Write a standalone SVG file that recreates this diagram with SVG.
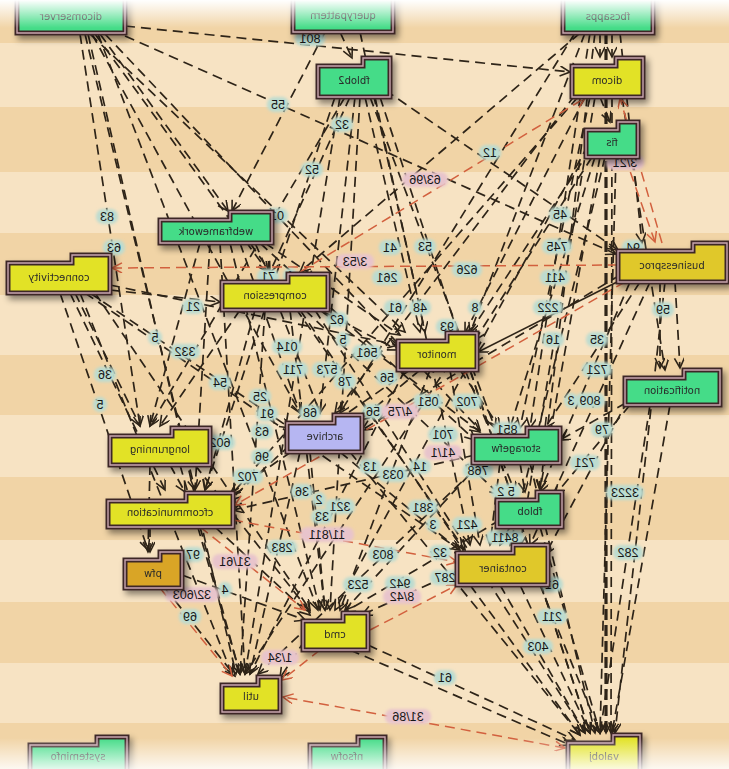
<svg xmlns="http://www.w3.org/2000/svg" width="729" height="769" viewBox="0 0 729 769">
<defs>
<linearGradient id="topfade" x1="0" y1="0" x2="0" y2="1"><stop offset="0" stop-color="#fff" stop-opacity="1"/><stop offset="1" stop-color="#fff" stop-opacity="0"/></linearGradient>
<linearGradient id="botfade" x1="0" y1="0" x2="0" y2="1"><stop offset="0" stop-color="#fff" stop-opacity="0"/><stop offset="1" stop-color="#fff" stop-opacity="1"/></linearGradient>
<filter id="sh" x="-20%" y="-30%" width="150%" height="170%"><feDropShadow dx="3" dy="4" stdDeviation="3" flood-color="#000" flood-opacity="0.45"/></filter>
<filter id="glow" x="-30%" y="-50%" width="160%" height="200%"><feGaussianBlur stdDeviation="1.6"/></filter>
<marker id="ad" markerUnits="userSpaceOnUse" markerWidth="14" markerHeight="12" refX="11" refY="5" orient="auto"><path d="M1,0 L11,5 L1,10" fill="none" stroke="#2e2418" stroke-width="1.6"/></marker>
<marker id="ar" markerUnits="userSpaceOnUse" markerWidth="14" markerHeight="12" refX="11" refY="5" orient="auto"><path d="M1,0 L11,5 L1,10" fill="none" stroke="#d2603e" stroke-width="1.5"/></marker>
<marker id="ars" markerUnits="userSpaceOnUse" markerWidth="14" markerHeight="12" refX="1" refY="5" orient="auto"><path d="M11,0 L1,5 L11,10" fill="none" stroke="#d2603e" stroke-width="1.5"/></marker>
<style>
.e{fill:none;stroke:#2e2418;stroke-width:1.7;stroke-dasharray:10 6;marker-end:url(#ad)}
.ek{stroke-width:3.2;stroke-dasharray:11 5}
.r{fill:none;stroke:#d2603e;stroke-width:1.5;stroke-dasharray:10 6;marker-end:url(#ar)}
.lb rect{fill:#bcdcd0;filter:url(#glow)}
.lb.p rect{fill:#e8c4cc}
.lb text{font-family:"Liberation Sans",Arial,sans-serif;font-size:12.5px;fill:#161616;text-anchor:middle}
.o{stroke:#3c2828;stroke-width:5;stroke-linejoin:miter}
.i{fill:none;stroke:#c9a5ae;stroke-width:1.4}
.g{fill:#44dc88}.y{fill:#e2e226}.gd{fill:#e0c82a}.or{fill:#d9a526}.lv{fill:#b6b6f2}
.nt{font-family:"DejaVu Sans",Verdana,sans-serif;font-size:10px;fill:#2a2a2a;text-anchor:middle}
</style>
</defs>
<g id="background">
<rect width="729" height="769" fill="#f7e3c3"/>
<rect y="0" width="729" height="43" fill="#f1d4a6"/>
<rect y="107" width="729" height="65" fill="#f1d4a6"/>
<rect y="233" width="729" height="62" fill="#f1d4a6"/>
<rect y="355" width="729" height="60" fill="#f1d4a6"/>
<rect y="477" width="729" height="63" fill="#f1d4a6"/>
<rect y="602" width="729" height="61" fill="#f1d4a6"/>
<rect y="723" width="729" height="46" fill="#f1d4a6"/>
</g>
<g id="connectors">
<path class="e" d="M125,26 L570,72"/>
<path class="e" d="M125,36 L616,254"/>
<path class="e" d="M100,34 L228,211"/>
<path class="e" d="M95,34 L268,272"/>
<path class="e" d="M90,34 L405,332"/>
<path class="e" d="M80,34 L140,426"/>
<path class="e" d="M85,34 L195,490"/>
<path class="e" d="M88,34 L236,674"/>
<path class="e" d="M92,34 L300,413"/>
<path class="e" d="M98,34 L318,610"/>
<path class="e" d="M105,34 L480,430"/>
<path class="e" d="M325,32 L232,211"/>
<path class="e" d="M340,32 L352,58"/>
<path class="e" d="M360,32 L425,332"/>
<path class="e" d="M350,97 L270,272"/>
<path class="e" d="M345,97 L150,426"/>
<path class="e" d="M355,97 L320,413"/>
<path class="e" d="M360,97 L330,610"/>
<path class="e" d="M365,97 L420,332"/>
<path class="e" d="M370,97 L495,428"/>
<path class="e" d="M375,97 L470,545"/>
<path class="e" d="M385,90 L618,250"/>
<path class="e" d="M340,97 L245,674"/>
<path class="e" d="M380,97 L590,733"/>
<path class="e" d="M335,97 L205,490"/>
<path class="e" d="M600,33 L600,57"/>
<path class="e" d="M612,33 L612,57"/>
<path class="e ek" d="M606,33 L606,733"/>
<path class="e" d="M590,33 L530,428"/>
<path class="e" d="M585,33 L470,333"/>
<path class="e" d="M580,33 L300,272"/>
<path class="e" d="M595,33 L540,490"/>
<path class="e" d="M575,33 L340,413"/>
<path class="e" d="M620,33 L642,243"/>
<path class="e" d="M600,97 L610,122"/>
<path class="e" d="M590,97 L520,428"/>
<path class="e" d="M585,97 L465,333"/>
<path class="e" d="M595,97 L520,545"/>
<path class="e" d="M612,97 L611,733"/>
<path class="e" d="M622,97 L665,370"/>
<path class="e" d="M578,97 L232,494"/>
<path class="e" d="M575,95 L335,413"/>
<path class="e" d="M595,157 L510,428"/>
<path class="e" d="M592,157 L475,340"/>
<path class="e" d="M600,157 L540,490"/>
<path class="e" d="M605,157 L510,545"/>
<path class="e" d="M616,157 L600,733"/>
<path class="e" d="M590,150 L245,674"/>
<path class="e" d="M588,145 L335,610"/>
<path class="e" d="M200,243 L150,426"/>
<path class="e" d="M210,243 L195,490"/>
<path class="e" d="M220,243 L245,674"/>
<path class="e" d="M230,243 L320,610"/>
<path class="e" d="M240,243 L300,413"/>
<path class="e" d="M255,243 L268,272"/>
<path class="e" d="M265,243 L400,335"/>
<path class="e" d="M260,243 L475,440"/>
<path class="e" d="M250,243 L465,550"/>
<path class="e" d="M110,285 L398,345"/>
<path class="e" d="M90,293 L290,428"/>
<path class="e" d="M85,293 L460,550"/>
<path class="e" d="M70,293 L165,490"/>
<path class="e" d="M60,293 L148,550"/>
<path class="e" d="M75,293 L140,426"/>
<path class="e" d="M80,293 L232,674"/>
<path class="e" d="M95,293 L310,610"/>
<path class="e" d="M110,290 L220,302"/>
<path class="e" d="M240,310 L160,426"/>
<path class="e" d="M255,310 L205,490"/>
<path class="e" d="M265,310 L240,674"/>
<path class="e" d="M280,310 L320,413"/>
<path class="e" d="M290,310 L325,610"/>
<path class="e" d="M300,310 L462,548"/>
<path class="e" d="M310,305 L398,350"/>
<path class="e" d="M320,310 L480,432"/>
<path class="e" d="M315,310 L585,733"/>
<path class="e" d="M305,310 L500,495"/>
<path class="e" d="M660,282 L660,368"/>
<path class="e" d="M675,282 L680,368"/>
<path class="e" d="M640,282 L545,428"/>
<path class="e" d="M630,282 L540,492"/>
<path class="e" d="M625,278 L478,352" style="stroke-dasharray:none"/>
<path class="e" d="M650,282 L530,545"/>
<path class="e" d="M665,282 L615,733"/>
<path class="e" d="M620,275 L362,430"/>
<path class="e" d="M420,370 L360,420"/>
<path class="e" d="M410,370 L230,494"/>
<path class="e" d="M405,370 L250,674"/>
<path class="e" d="M430,370 L340,610"/>
<path class="e" d="M450,370 L480,545"/>
<path class="e" d="M460,370 L500,428"/>
<path class="e" d="M470,370 L590,733"/>
<path class="e" d="M465,370 L515,492"/>
<path class="e" d="M640,395 L560,440"/>
<path class="e" d="M630,405 L555,495"/>
<path class="e" d="M628,400 L545,555"/>
<path class="e" d="M650,405 L600,733"/>
<path class="e" d="M670,405 L612,733"/>
<path class="e" d="M310,452 L325,610"/>
<path class="e" d="M300,452 L250,674"/>
<path class="e" d="M340,452 L465,555"/>
<path class="e" d="M350,452 L580,735"/>
<path class="e" d="M290,445 L230,500"/>
<path class="e" d="M500,463 L490,545"/>
<path class="e" d="M520,463 L525,492"/>
<path class="e" d="M530,463 L595,733"/>
<path class="e" d="M480,463 L345,610"/>
<path class="e" d="M485,460 L258,674"/>
<path class="e" d="M475,455 L233,510"/>
<path class="e" d="M170,465 L185,492"/>
<path class="e" d="M180,465 L240,674"/>
<path class="e" d="M195,465 L310,612"/>
<path class="e" d="M150,465 L148,552"/>
<path class="e" d="M150,527 L150,552"/>
<path class="e" d="M200,527 L240,674"/>
<path class="e" d="M215,527 L310,615"/>
<path class="e" d="M510,527 L500,545"/>
<path class="e" d="M540,527 L600,733"/>
<path class="e" d="M500,520 L345,612"/>
<path class="e" d="M165,588 L235,676"/>
<path class="e" d="M182,575 L305,620"/>
<path class="e" d="M520,585 L590,733"/>
<path class="e" d="M500,585 L585,733"/>
<path class="e" d="M540,585 L600,733"/>
<path class="e" d="M470,585 L580,735"/>
<path class="e" d="M460,570 L362,615"/>
<path class="e" d="M368,645 L575,740"/>
<path class="e" d="M350,650 L570,745"/>
<path class="e" d="M305,640 L280,678"/>
<path class="r" d="M618,265 L112,268"/>
<path class="r" d="M625,157 L655,242"/>
<path class="r" d="M300,272 L585,98"/>
<path class="r" d="M662,243 L620,98"/>
<path class="r" d="M625,282 L235,505"/>
<path class="r" d="M233,520 L457,562"/>
<path class="r" d="M200,527 L305,610"/>
<path class="r" d="M160,588 L232,676"/>
<path class="r" d="M370,630 L457,585"/>
<path class="r" d="M320,650 L282,680"/>
<path class="r" d="M565,748 L283,697" style="marker-start:url(#ars)"/>
<g class="lb"><rect x="295" y="31" width="30" height="15" rx="7"/><text transform="translate(310,43) scale(-1,1)">801</text></g>
<g class="lb"><rect x="267" y="97" width="22" height="15" rx="7"/><text transform="translate(278,109) scale(-1,1)">55</text></g>
<g class="lb"><rect x="331" y="117" width="22" height="15" rx="7"/><text transform="translate(342,129) scale(-1,1)">32</text></g>
<g class="lb"><rect x="301" y="162" width="22" height="15" rx="7"/><text transform="translate(312,174) scale(-1,1)">52</text></g>
<g class="lb"><rect x="479" y="145" width="22" height="15" rx="7"/><text transform="translate(490,157) scale(-1,1)">12</text></g>
<g class="lb"><rect x="96" y="209" width="22" height="15" rx="7"/><text transform="translate(107,221) scale(-1,1)">83</text></g>
<g class="lb"><rect x="103" y="240" width="22" height="15" rx="7"/><text transform="translate(114,252) scale(-1,1)">63</text></g>
<g class="lb"><rect x="266" y="208" width="22" height="15" rx="7"/><text transform="translate(277,220) scale(-1,1)">01</text></g>
<g class="lb"><rect x="379" y="240" width="22" height="15" rx="7"/><text transform="translate(390,252) scale(-1,1)">41</text></g>
<g class="lb"><rect x="414" y="239" width="22" height="15" rx="7"/><text transform="translate(425,251) scale(-1,1)">53</text></g>
<g class="lb"><rect x="452" y="262" width="30" height="15" rx="7"/><text transform="translate(467,274) scale(-1,1)">626</text></g>
<g class="lb"><rect x="257" y="269" width="22" height="15" rx="7"/><text transform="translate(268,281) scale(-1,1)">71</text></g>
<g class="lb"><rect x="283" y="268" width="14" height="15" rx="7"/><text transform="translate(290,280) scale(-1,1)">1</text></g>
<g class="lb"><rect x="372" y="270" width="30" height="15" rx="7"/><text transform="translate(387,282) scale(-1,1)">261</text></g>
<g class="lb"><rect x="468" y="300" width="14" height="15" rx="7"/><text transform="translate(475,312) scale(-1,1)">8</text></g>
<g class="lb"><rect x="409" y="300" width="22" height="15" rx="7"/><text transform="translate(420,312) scale(-1,1)">48</text></g>
<g class="lb"><rect x="384" y="300" width="22" height="15" rx="7"/><text transform="translate(395,312) scale(-1,1)">61</text></g>
<g class="lb"><rect x="326" y="312" width="22" height="15" rx="7"/><text transform="translate(337,324) scale(-1,1)">62</text></g>
<g class="lb"><rect x="436" y="319" width="22" height="15" rx="7"/><text transform="translate(447,331) scale(-1,1)">93</text></g>
<g class="lb"><rect x="336" y="332" width="14" height="15" rx="7"/><text transform="translate(343,344) scale(-1,1)">5</text></g>
<g class="lb"><rect x="272" y="339" width="30" height="15" rx="7"/><text transform="translate(287,351) scale(-1,1)">014</text></g>
<g class="lb"><rect x="352" y="345" width="30" height="15" rx="7"/><text transform="translate(367,357) scale(-1,1)">561</text></g>
<g class="lb"><rect x="278" y="362" width="30" height="15" rx="7"/><text transform="translate(293,374) scale(-1,1)">711</text></g>
<g class="lb"><rect x="312" y="362" width="30" height="15" rx="7"/><text transform="translate(327,374) scale(-1,1)">573</text></g>
<g class="lb"><rect x="334" y="374" width="22" height="15" rx="7"/><text transform="translate(345,386) scale(-1,1)">78</text></g>
<g class="lb"><rect x="376" y="370" width="22" height="15" rx="7"/><text transform="translate(387,382) scale(-1,1)">56</text></g>
<g class="lb"><rect x="549" y="207" width="22" height="15" rx="7"/><text transform="translate(560,219) scale(-1,1)">45</text></g>
<g class="lb"><rect x="622" y="240" width="22" height="15" rx="7"/><text transform="translate(633,252) scale(-1,1)">94</text></g>
<g class="lb"><rect x="542" y="239" width="30" height="15" rx="7"/><text transform="translate(557,251) scale(-1,1)">745</text></g>
<g class="lb"><rect x="540" y="270" width="30" height="15" rx="7"/><text transform="translate(555,282) scale(-1,1)">411</text></g>
<g class="lb"><rect x="533" y="300" width="30" height="15" rx="7"/><text transform="translate(548,312) scale(-1,1)">222</text></g>
<g class="lb"><rect x="652" y="302" width="22" height="15" rx="7"/><text transform="translate(663,314) scale(-1,1)">59</text></g>
<g class="lb"><rect x="542" y="332" width="22" height="15" rx="7"/><text transform="translate(553,344) scale(-1,1)">16</text></g>
<g class="lb"><rect x="586" y="332" width="22" height="15" rx="7"/><text transform="translate(597,344) scale(-1,1)">35</text></g>
<g class="lb"><rect x="582" y="362" width="30" height="15" rx="7"/><text transform="translate(597,374) scale(-1,1)">721</text></g>
<g class="lb"><rect x="182" y="299" width="22" height="15" rx="7"/><text transform="translate(193,311) scale(-1,1)">21</text></g>
<g class="lb"><rect x="148" y="330" width="14" height="15" rx="7"/><text transform="translate(155,342) scale(-1,1)">5</text></g>
<g class="lb"><rect x="170" y="344" width="30" height="15" rx="7"/><text transform="translate(185,356) scale(-1,1)">332</text></g>
<g class="lb"><rect x="94" y="367" width="22" height="15" rx="7"/><text transform="translate(105,379) scale(-1,1)">36</text></g>
<g class="lb"><rect x="209" y="375" width="22" height="15" rx="7"/><text transform="translate(220,387) scale(-1,1)">54</text></g>
<g class="lb"><rect x="93" y="397" width="14" height="15" rx="7"/><text transform="translate(100,409) scale(-1,1)">5</text></g>
<g class="lb"><rect x="205" y="435" width="30" height="15" rx="7"/><text transform="translate(220,447) scale(-1,1)">602</text></g>
<g class="lb"><rect x="182" y="547" width="22" height="15" rx="7"/><text transform="translate(193,559) scale(-1,1)">97</text></g>
<g class="lb"><rect x="249" y="389" width="22" height="15" rx="7"/><text transform="translate(260,401) scale(-1,1)">25</text></g>
<g class="lb"><rect x="256" y="406" width="22" height="15" rx="7"/><text transform="translate(267,418) scale(-1,1)">91</text></g>
<g class="lb"><rect x="299" y="405" width="22" height="15" rx="7"/><text transform="translate(310,417) scale(-1,1)">68</text></g>
<g class="lb"><rect x="362" y="404" width="22" height="15" rx="7"/><text transform="translate(373,416) scale(-1,1)">56</text></g>
<g class="lb"><rect x="413" y="394" width="30" height="15" rx="7"/><text transform="translate(428,406) scale(-1,1)">051</text></g>
<g class="lb"><rect x="452" y="394" width="30" height="15" rx="7"/><text transform="translate(467,406) scale(-1,1)">702</text></g>
<g class="lb"><rect x="251" y="424" width="22" height="15" rx="7"/><text transform="translate(262,436) scale(-1,1)">63</text></g>
<g class="lb"><rect x="428" y="427" width="30" height="15" rx="7"/><text transform="translate(443,439) scale(-1,1)">701</text></g>
<g class="lb"><rect x="251" y="449" width="22" height="15" rx="7"/><text transform="translate(262,461) scale(-1,1)">96</text></g>
<g class="lb"><rect x="463" y="463" width="30" height="15" rx="7"/><text transform="translate(478,475) scale(-1,1)">768</text></g>
<g class="lb"><rect x="233" y="469" width="30" height="15" rx="7"/><text transform="translate(248,481) scale(-1,1)">702</text></g>
<g class="lb"><rect x="359" y="459" width="22" height="15" rx="7"/><text transform="translate(370,471) scale(-1,1)">13</text></g>
<g class="lb"><rect x="378" y="467" width="30" height="15" rx="7"/><text transform="translate(393,479) scale(-1,1)">033</text></g>
<g class="lb"><rect x="409" y="459" width="22" height="15" rx="7"/><text transform="translate(420,471) scale(-1,1)">14</text></g>
<g class="lb"><rect x="291" y="484" width="22" height="15" rx="7"/><text transform="translate(302,496) scale(-1,1)">36</text></g>
<g class="lb"><rect x="312" y="492" width="14" height="15" rx="7"/><text transform="translate(319,504) scale(-1,1)">2</text></g>
<g class="lb"><rect x="325" y="499" width="30" height="15" rx="7"/><text transform="translate(340,511) scale(-1,1)">321</text></g>
<g class="lb"><rect x="408" y="500" width="30" height="15" rx="7"/><text transform="translate(423,512) scale(-1,1)">381</text></g>
<g class="lb"><rect x="311" y="509" width="22" height="15" rx="7"/><text transform="translate(322,521) scale(-1,1)">33</text></g>
<g class="lb"><rect x="426" y="517" width="14" height="15" rx="7"/><text transform="translate(433,529) scale(-1,1)">3</text></g>
<g class="lb"><rect x="452" y="517" width="30" height="15" rx="7"/><text transform="translate(467,529) scale(-1,1)">421</text></g>
<g class="lb"><rect x="267" y="540" width="30" height="15" rx="7"/><text transform="translate(282,552) scale(-1,1)">283</text></g>
<g class="lb"><rect x="368" y="547" width="30" height="15" rx="7"/><text transform="translate(383,559) scale(-1,1)">803</text></g>
<g class="lb"><rect x="429" y="545" width="22" height="15" rx="7"/><text transform="translate(440,557) scale(-1,1)">32</text></g>
<g class="lb"><rect x="430" y="570" width="30" height="15" rx="7"/><text transform="translate(445,582) scale(-1,1)">287</text></g>
<g class="lb"><rect x="343" y="577" width="30" height="15" rx="7"/><text transform="translate(358,589) scale(-1,1)">523</text></g>
<g class="lb"><rect x="385" y="576" width="30" height="15" rx="7"/><text transform="translate(400,588) scale(-1,1)">942</text></g>
<g class="lb"><rect x="575" y="393" width="30" height="15" rx="7"/><text transform="translate(590,405) scale(-1,1)">809</text></g>
<g class="lb"><rect x="564" y="393" width="14" height="15" rx="7"/><text transform="translate(571,405) scale(-1,1)">3</text></g>
<g class="lb"><rect x="492" y="422" width="30" height="15" rx="7"/><text transform="translate(507,434) scale(-1,1)">851</text></g>
<g class="lb"><rect x="591" y="422" width="22" height="15" rx="7"/><text transform="translate(602,434) scale(-1,1)">79</text></g>
<g class="lb"><rect x="570" y="455" width="30" height="15" rx="7"/><text transform="translate(585,467) scale(-1,1)">721</text></g>
<g class="lb"><rect x="606" y="485" width="38" height="15" rx="7"/><text transform="translate(625,497) scale(-1,1)">3223</text></g>
<g class="lb"><rect x="491" y="484" width="30" height="15" rx="7"/><text transform="translate(506,496) scale(-1,1)">5 2</text></g>
<g class="lb"><rect x="486" y="530" width="38" height="15" rx="7"/><text transform="translate(505,542) scale(-1,1)">8411</text></g>
<g class="lb"><rect x="613" y="545" width="30" height="15" rx="7"/><text transform="translate(628,557) scale(-1,1)">282</text></g>
<g class="lb"><rect x="218" y="582" width="14" height="15" rx="7"/><text transform="translate(225,594) scale(-1,1)">4</text></g>
<g class="lb"><rect x="179" y="609" width="22" height="15" rx="7"/><text transform="translate(190,621) scale(-1,1)">69</text></g>
<g class="lb"><rect x="434" y="670" width="22" height="15" rx="7"/><text transform="translate(445,682) scale(-1,1)">61</text></g>
<g class="lb"><rect x="541" y="577" width="22" height="15" rx="7"/><text transform="translate(552,589) scale(-1,1)">61</text></g>
<g class="lb"><rect x="537" y="609" width="30" height="15" rx="7"/><text transform="translate(552,621) scale(-1,1)">211</text></g>
<g class="lb"><rect x="523" y="639" width="30" height="15" rx="7"/><text transform="translate(538,651) scale(-1,1)">403</text></g>
<g class="lb p"><rect x="402" y="172" width="46" height="15" rx="7"/><text transform="translate(425,184) scale(-1,1)">63/96</text></g>
<g class="lb p"><rect x="606" y="155" width="38" height="15" rx="7"/><text transform="translate(625,167) scale(-1,1)">3/21</text></g>
<g class="lb p"><rect x="336" y="254" width="38" height="15" rx="7"/><text transform="translate(355,266) scale(-1,1)">3/53</text></g>
<g class="lb p"><rect x="381" y="404" width="38" height="15" rx="7"/><text transform="translate(400,416) scale(-1,1)">4/75</text></g>
<g class="lb p"><rect x="424" y="445" width="38" height="15" rx="7"/><text transform="translate(443,457) scale(-1,1)">41/1</text></g>
<g class="lb p"><rect x="300" y="527" width="54" height="15" rx="7"/><text transform="translate(327,539) scale(-1,1)">11/811</text></g>
<g class="lb p"><rect x="212" y="554" width="46" height="15" rx="7"/><text transform="translate(235,566) scale(-1,1)">31/61</text></g>
<g class="lb p"><rect x="165" y="587" width="54" height="15" rx="7"/><text transform="translate(192,599) scale(-1,1)">32/603</text></g>
<g class="lb p"><rect x="383" y="589" width="38" height="15" rx="7"/><text transform="translate(402,601) scale(-1,1)">8/42</text></g>
<g class="lb p"><rect x="261" y="650" width="38" height="15" rx="7"/><text transform="translate(280,662) scale(-1,1)">1/34</text></g>
<g class="lb p"><rect x="385" y="709" width="46" height="15" rx="7"/><text transform="translate(408,721) scale(-1,1)">31/86</text></g>
</g>
<g id="n-dicomserver" filter="url(#sh)"><path class="o g" d="M17,-8 H125 V33 H17 Z"/><path class="i" d="M17,-8 H125 V33 H17 Z"/><text class="nt" transform="translate(71,20) scale(-1,1)">dicomserver</text></g>
<g id="n-querypattern" filter="url(#sh)"><path class="o g" d="M293,-8 H393 V32 H293 Z"/><path class="i" d="M293,-8 H393 V32 H293 Z"/><text class="nt" transform="translate(343,19) scale(-1,1)">querypattern</text></g>
<g id="n-fbcsapps" filter="url(#sh)"><path class="o g" d="M563,-8 H653 V33 H563 Z"/><path class="i" d="M563,-8 H653 V33 H563 Z"/><text class="nt" transform="translate(608,20) scale(-1,1)">fbcsapps</text></g>
<g id="n-fblob2" filter="url(#sh)"><path class="o g" d="M318,66 H363 V58 H390 V97 H318 Z"/><path class="i" d="M318,66 H363 V58 H390 V97 H318 Z"/><text class="nt" transform="translate(354,84) scale(-1,1)">fblob2</text></g>
<g id="n-dicom" filter="url(#sh)"><path class="o y" d="M572,66 H616 V58 H643 V97 H572 Z"/><path class="i" d="M572,66 H616 V58 H643 V97 H572 Z"/><text class="nt" transform="translate(607,84) scale(-1,1)">dicom</text></g>
<g id="n-fis" filter="url(#sh)"><path class="o g" d="M586,130 H618 V122 H638 V157 H586 Z"/><path class="i" d="M586,130 H618 V122 H638 V157 H586 Z"/><text class="nt" transform="translate(612,146) scale(-1,1)">fis</text></g>
<g id="n-webframework" filter="url(#sh)"><path class="o g" d="M160,220 H230 V212 H272 V243 H160 Z"/><path class="i" d="M160,220 H230 V212 H272 V243 H160 Z"/><text class="nt" transform="translate(216,235) scale(-1,1)">webframework</text></g>
<g id="n-connectivity" filter="url(#sh)"><path class="o y" d="M8,263 H72 V255 H110 V293 H8 Z"/><path class="i" d="M8,263 H72 V255 H110 V293 H8 Z"/><text class="nt" transform="translate(59,281) scale(-1,1)">connectivity</text></g>
<g id="n-compression" filter="url(#sh)"><path class="o y" d="M222,282 H288 V274 H328 V310 H222 Z"/><path class="i" d="M222,282 H288 V274 H328 V310 H222 Z"/><text class="nt" transform="translate(275,299) scale(-1,1)">compression</text></g>
<g id="n-businessproc" filter="url(#sh)"><path class="o gd" d="M618,251 H693 V243 H727 V282 H618 Z"/><path class="i" d="M618,251 H693 V243 H727 V282 H618 Z"/><text class="nt" transform="translate(672,269) scale(-1,1)">businessproc</text></g>
<g id="n-monitor" filter="url(#sh)"><path class="o y" d="M398,341 H447 V333 H477 V370 H398 Z"/><path class="i" d="M398,341 H447 V333 H477 V370 H398 Z"/><text class="nt" transform="translate(437,358) scale(-1,1)">monitor</text></g>
<g id="n-notification" filter="url(#sh)"><path class="o g" d="M625,378 H684 V370 H720 V405 H625 Z"/><path class="i" d="M625,378 H684 V370 H720 V405 H625 Z"/><text class="nt" transform="translate(672,394) scale(-1,1)">notification</text></g>
<g id="n-archive" filter="url(#sh)"><path class="o lv" d="M287,423 H334 V415 H362 V452 H287 Z"/><path class="i" d="M287,423 H334 V415 H362 V452 H287 Z"/><text class="nt" transform="translate(325,440) scale(-1,1)">archive</text></g>
<g id="n-storagefw" filter="url(#sh)"><path class="o g" d="M473,436 H527 V428 H560 V463 H473 Z"/><path class="i" d="M473,436 H527 V428 H560 V463 H473 Z"/><text class="nt" transform="translate(516,452) scale(-1,1)">storagefw</text></g>
<g id="n-longrunning" filter="url(#sh)"><path class="o y" d="M110,436 H172 V428 H210 V465 H110 Z"/><path class="i" d="M110,436 H172 V428 H210 V465 H110 Z"/><text class="nt" transform="translate(160,453) scale(-1,1)">longrunning</text></g>
<g id="n-cfcommunication" filter="url(#sh)"><path class="o y" d="M108,501 H186 V493 H233 V527 H108 Z"/><path class="i" d="M108,501 H186 V493 H233 V527 H108 Z"/><text class="nt" transform="translate(170,516) scale(-1,1)">cfcommunication</text></g>
<g id="n-fblob" filter="url(#sh)"><path class="o g" d="M497,500 H537 V492 H562 V527 H497 Z"/><path class="i" d="M497,500 H537 V492 H562 V527 H497 Z"/><text class="nt" transform="translate(530,515) scale(-1,1)">fblob</text></g>
<g id="n-pfw" filter="url(#sh)"><path class="o or" d="M125,560 H160 V552 H182 V588 H125 Z"/><path class="i" d="M125,560 H160 V552 H182 V588 H125 Z"/><text class="nt" transform="translate(153,577) scale(-1,1)">pfw</text></g>
<g id="n-container" filter="url(#sh)"><path class="o gd" d="M457,553 H513 V545 H548 V585 H457 Z"/><path class="i" d="M457,553 H513 V545 H548 V585 H457 Z"/><text class="nt" transform="translate(503,572) scale(-1,1)">container</text></g>
<g id="n-cmd" filter="url(#sh)"><path class="o y" d="M303,621 H343 V613 H368 V650 H303 Z"/><path class="i" d="M303,621 H343 V613 H368 V650 H303 Z"/><text class="nt" transform="translate(335,638) scale(-1,1)">cmd</text></g>
<g id="n-util" filter="url(#sh)"><path class="o y" d="M222,685 H258 V677 H280 V712 H222 Z"/><path class="i" d="M222,685 H258 V677 H280 V712 H222 Z"/><text class="nt" transform="translate(251,700) scale(-1,1)">util</text></g>
<g id="n-valobj" filter="url(#sh)"><path class="o y" d="M568,743 H613 V735 H640 V780 H568 Z"/><path class="i" d="M568,743 H613 V735 H640 V780 H568 Z"/><text class="nt" transform="translate(604,760) scale(-1,1)">valobj</text></g>
<g id="n-systeminfo" filter="url(#sh)"><path class="o g" d="M30,745 H97 V737 H127 V780 H30 Z"/><path class="i" d="M30,745 H97 V737 H127 V780 H30 Z"/><text class="nt" transform="translate(78,760) scale(-1,1)">systeminfo</text></g>
<g id="n-nfsofw" filter="url(#sh)"><path class="o g" d="M310,745 H358 V737 H385 V780 H310 Z"/><path class="i" d="M310,745 H358 V737 H385 V780 H310 Z"/><text class="nt" transform="translate(347,760) scale(-1,1)">nfsofw</text></g>
<g id="fades">
<rect x="0" y="0" width="729" height="28" fill="url(#topfade)"/>
<rect x="0" y="738" width="729" height="31" fill="url(#botfade)" opacity="0.85"/>
</g>
</svg>
